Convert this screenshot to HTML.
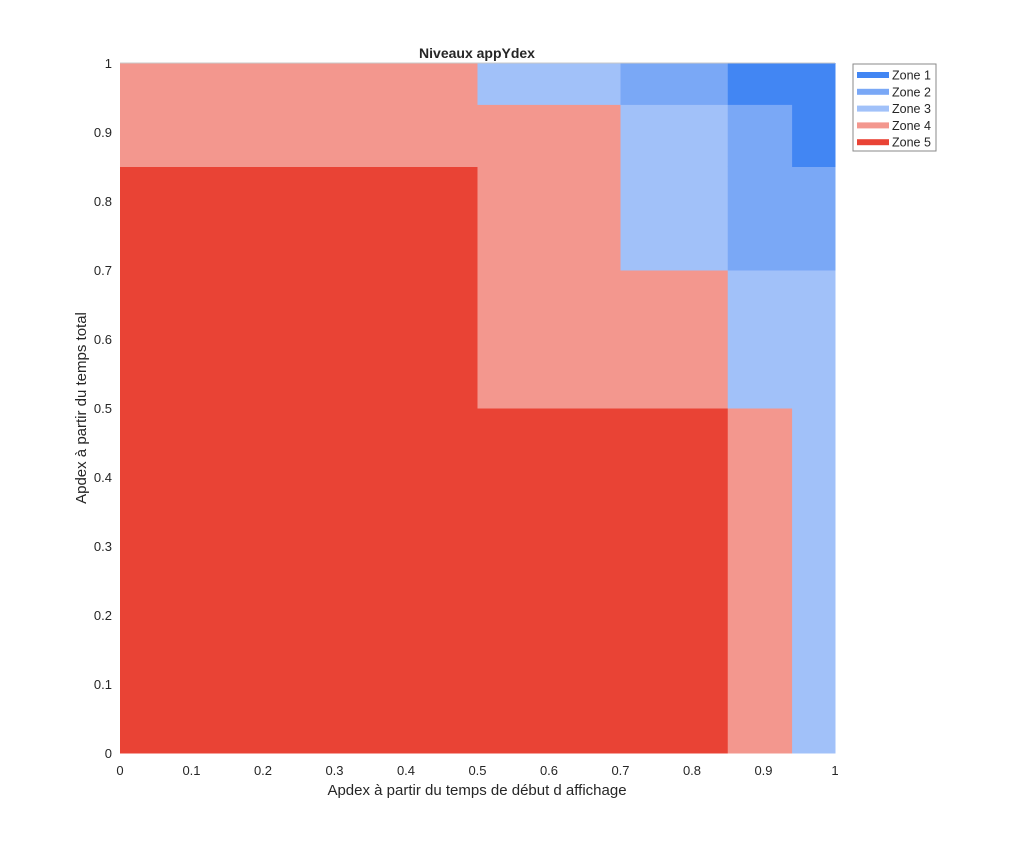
<!DOCTYPE html>
<html><head><meta charset="utf-8"><style>
body{margin:0;background:#fff;font-family:"Liberation Sans",sans-serif}
svg text{font-family:"Liberation Sans",sans-serif;fill:#262626}
</style></head><body>
<svg id="chart" width="1024" height="847" viewBox="0 0 1024 847" xmlns="http://www.w3.org/2000/svg">
<g id="cells"></g>
<g id="axes"></g>
<text x="477" y="58" text-anchor="middle" font-size="14" font-weight="bold">Niveaux appYdex</text>
<text x="477" y="795" text-anchor="middle" font-size="15">Apdex à partir du temps de début d affichage</text>
<text transform="translate(86,408) rotate(-90)" text-anchor="middle" font-size="15">Apdex à partir du temps total</text>
<g id="legend"></g>
</svg>
<script>
const xEdges=[0,0.5,0.7,0.85,0.94,1];
const yEdges=[0,0.5,0.7,0.85,0.94,1];
// zones[col][row], rows bottom to top
const zones=[[5,5,5,4,4],[5,4,4,4,3],[5,4,3,3,2],[4,3,2,2,1],[3,3,2,1,1]];
const zoneNames=["Zone 1","Zone 2","Zone 3","Zone 4","Zone 5"];
const tickVals=[0,0.1,0.2,0.3,0.4,0.5,0.6,0.7,0.8,0.9,1];
const tickLabels=["0","0.1","0.2","0.3","0.4","0.5","0.6","0.7","0.8","0.9","1"];
const colors=["#4286f3","#7aa8f6","#a1c1f9","#f3978e","#e94335"];
const L=120,R=835,T=63,B=753;
const sx=v=>L+v*(R-L), sy=v=>B-v*(B-T);
const NS="http://www.w3.org/2000/svg";
function mk(t,a,p){const e=document.createElementNS(NS,t);for(const k in a)e.setAttribute(k,a[k]);p.appendChild(e);return e;}
const cells=document.getElementById('cells');
for(let i=0;i<zones.length;i++)for(let j=0;j<zones[i].length;j++){
 const x0=sx(xEdges[i]),x1=sx(xEdges[i+1]),y1=sy(yEdges[j]),y0=sy(yEdges[j+1]);
 const r=mk('rect',{x:x0,y:y0,width:x1-x0+0.5,height:y1-y0+0.5,fill:colors[zones[i][j]-1]},cells);
 
 
}
const ax=document.getElementById('axes');
mk('line',{x1:L,y1:T,x2:R,y2:T,stroke:'#c8c8c8','stroke-width':1},ax);
tickVals.forEach((v,i)=>{
 const t=mk('text',{x:sx(v),y:B+22,'text-anchor':'middle','font-size':13},ax);t.textContent=tickLabels[i];
 
 
 const u=mk('text',{x:L-8,y:sy(v)+5,'text-anchor':'end','font-size':13},ax);u.textContent=tickLabels[i];
 
 
});
const lg=document.getElementById('legend');
mk('rect',{x:853,y:64,width:83,height:87,fill:'#fff',stroke:'#8a8a8a','stroke-width':1},lg);
zoneNames.forEach((n,i)=>{
 const y=75+i*16.8;
 const s=mk('rect',{x:857,y:y-3,width:32,height:6,fill:colors[i]},lg);
 
 
 const t=mk('text',{x:892,y:y+4.5,'font-size':12.5},lg);t.textContent=n;
 
 
});
</script>
</body></html>
